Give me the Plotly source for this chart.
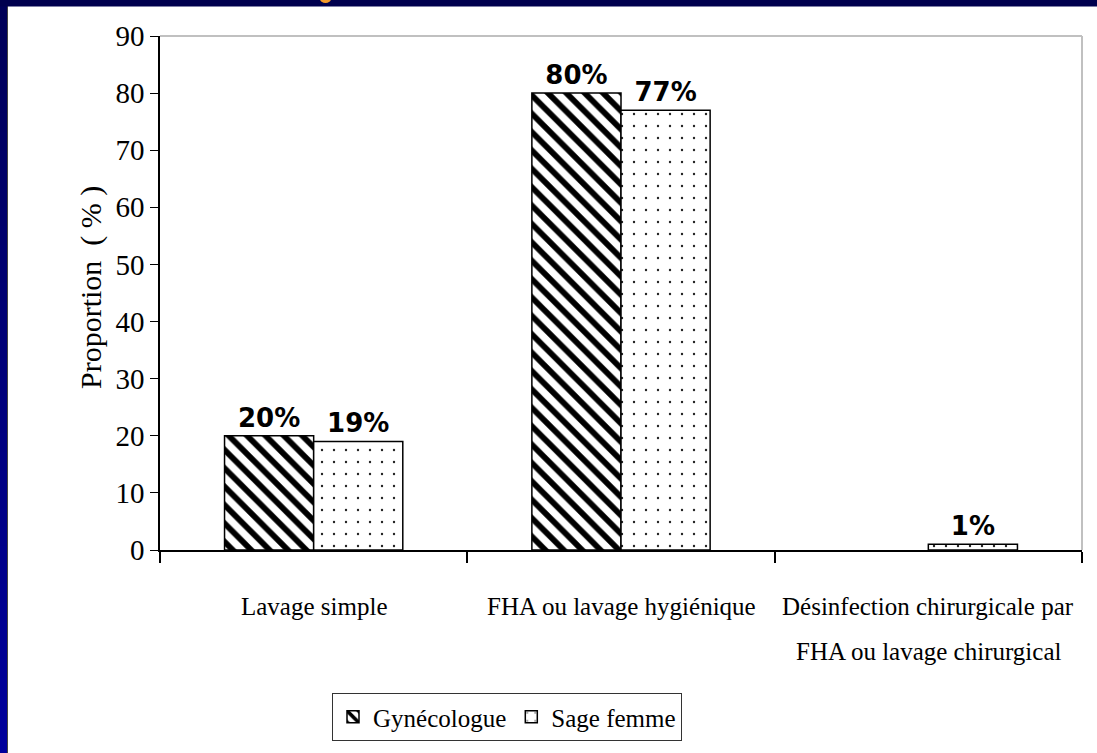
import plotly.graph_objects as go

# Hand-hygiene technique by professional group
category_lines = [
    ["Lavage simple"],
    ["FHA ou lavage hygiénique"],
    ["Désinfection chirurgicale par", "FHA ou lavage chirurgical"],
]
categories = [" ".join(lines) for lines in category_lines]
gynecologue = [20, 80, 0]
sage_femme = [19, 77, 1]
y_ticks = [0, 10, 20, 30, 40, 50, 60, 70, 80, 90]

W, H = 1097, 753
L, R, T, B = 160, 15, 36, 203
PW, PH = W - L - R, H - T - B


def px_x(x):
    return (x - L) / PW


def px_y(y):
    return (H - B - y) / PH


serif = "Liberation Serif"
label_font = dict(family="DejaVu Sans", size=26, color="black", weight="bold")


def pct_text(values):
    return [f"{v:g}%" if v > 0 else "" for v in values]


def outline_widths(values):
    # empty bars get no outline
    return [1.5 if v > 0 else 0 for v in values]


fig = go.Figure()
fig.add_trace(go.Bar(
    name="Gynécologue", x=categories, y=gynecologue,
    text=pct_text(gynecologue), textposition="outside", textfont=label_font,
    cliponaxis=False,
    marker=dict(color="white",
                line=dict(color="black", width=outline_widths(gynecologue)),
                pattern=dict(shape="\\", size=13, solidity=0.45,
                             fgcolor="black", bgcolor="white", fillmode="replace")),
))
fig.add_trace(go.Bar(
    name="Sage femme", x=categories, y=sage_femme,
    text=pct_text(sage_femme), textposition="outside", textfont=label_font,
    cliponaxis=False,
    marker=dict(color="white",
                line=dict(color="black", width=outline_widths(sage_femme)),
                pattern=dict(shape=".", size=12, solidity=0.03,
                             fgcolor="#222222", bgcolor="white", fillmode="replace")),
))

shapes = []
# left frame band with a vertical gradient
n = 40
top_c, bot_c = (0, 0, 0x58), (0, 0, 0x9c)
for i in range(n):
    f = i / (n - 1)
    c = tuple(round(a + (b - a) * f) for a, b in zip(top_c, bot_c))
    shapes.append(dict(type="rect", xref="paper", yref="paper",
                       x0=px_x(0), x1=px_x(7),
                       y0=px_y(H * (i + 1) / n + 2), y1=px_y(H * i / n),
                       fillcolor=f"rgb{c}", line=dict(width=0), layer="above"))
shapes.append(dict(type="line", xref="paper", yref="paper",
                   x0=px_x(7.5), x1=px_x(7.5), y0=px_y(H), y1=px_y(6),
                   line=dict(color="#444444", width=1)))
# top frame band
shapes.append(dict(type="rect", xref="paper", yref="paper",
                   x0=px_x(0), x1=px_x(W), y0=px_y(6.5), y1=px_y(0),
                   fillcolor="#00004e", line=dict(width=0), layer="above"))
shapes.append(dict(type="circle", xref="paper", yref="paper",
                   x0=px_x(320), x1=px_x(331), y0=px_y(3), y1=px_y(-5),
                   fillcolor="#f39a2a", line=dict(width=0), layer="above"))
# light plot-area border on top and right
shapes.append(dict(type="line", xref="paper", yref="paper",
                   x0=0, x1=1, y0=1, y1=1, line=dict(color="#c0c0c0", width=2)))
shapes.append(dict(type="line", xref="paper", yref="paper",
                   x0=1, x1=1, y0=0, y1=1, line=dict(color="#c0c0c0", width=2)))

annotations = []
for i, lines in enumerate(category_lines):
    for j, line in enumerate(lines):
        annotations.append(dict(
            x=i, y=0, xref="x", yref="paper", text=line, showarrow=False,
            xanchor="center", yanchor="middle", yshift=-56 - 45 * j,
            font=dict(family=serif, size=25, color="black")))
annotations.append(dict(
    x=px_x(91), y=px_y(288), xref="paper", yref="paper",
    text="Proportion\u00a0\u00a0(\u00a0%\u00a0)", textangle=-90, showarrow=False,
    xanchor="center", yanchor="middle",
    font=dict(family=serif, size=30, color="black")))

fig.update_layout(
    width=W, height=H, autosize=False,
    margin=dict(l=L, r=R, t=T, b=B, pad=0),
    paper_bgcolor="white", plot_bgcolor="white",
    barmode="group", bargap=0.42, bargroupgap=0,
    showlegend=True,
    legend=dict(orientation="h", x=px_x(332), y=px_y(693),
                xanchor="left", yanchor="top",
                font=dict(family=serif, size=25, color="black"),
                bordercolor="#333333", borderwidth=1, bgcolor="white",
                itemwidth=30, tracegroupgap=0),
    shapes=shapes,
    annotations=annotations,
)
fig.update_xaxes(type="category", range=[-0.5, 2.5], showticklabels=False,
                 tickson="boundaries", ticks="outside", ticklen=11,
                 tickcolor="black", tickwidth=1.5,
                 showline=True, linecolor="black", linewidth=1.5, showgrid=False)
fig.update_yaxes(range=[0, 90], tickvals=y_ticks, ticks="outside", ticklen=8,
                 tickcolor="black", tickwidth=1,
                 tickfont=dict(family=serif, size=29, color="black"),
                 showline=True, linecolor="black", linewidth=1.5,
                 showgrid=False, zeroline=False)

fig.write_html("out.html")
